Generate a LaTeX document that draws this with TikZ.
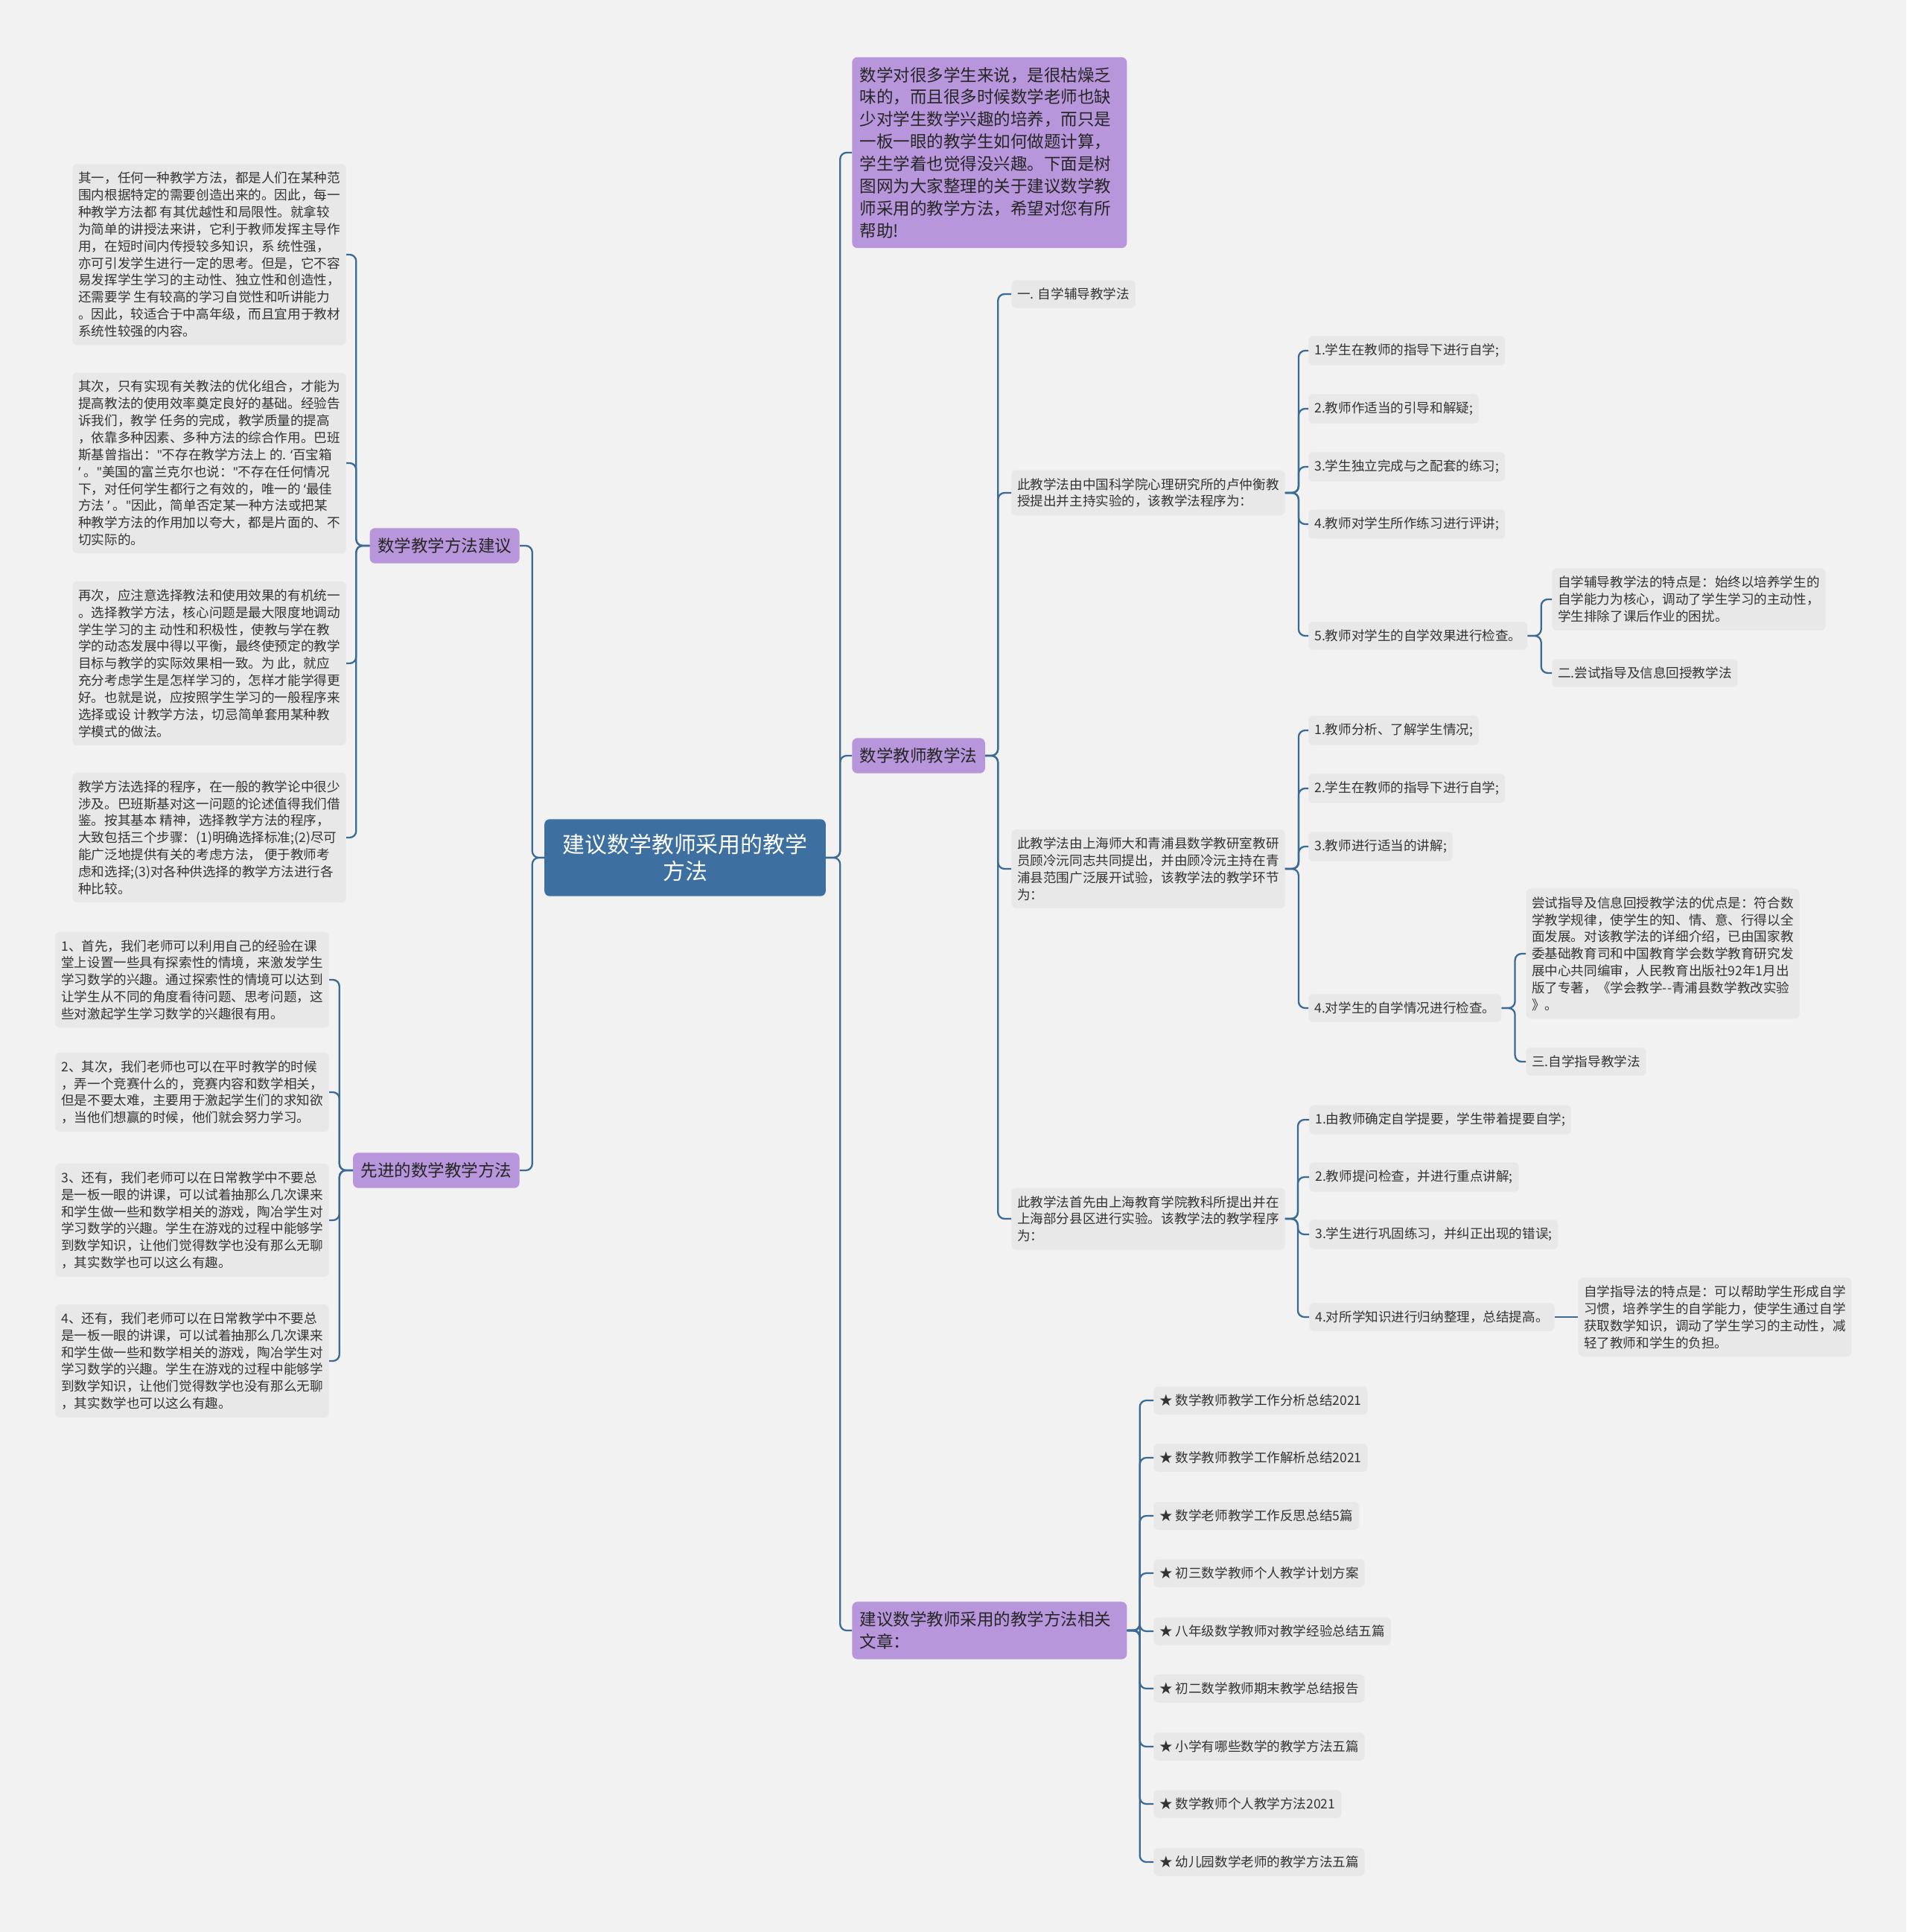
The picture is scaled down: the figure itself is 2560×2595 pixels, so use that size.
\documentclass[tikz,border=0pt]{standalone}
\usepackage{fontspec}
\setmainfont{Noto Sans CJK SC}
\newfontfamily\quotefont{Noto Sans}
\newcommand\qopen{{\quotefont ‘}}
\newcommand\qclose{{\quotefont ’}}
\newcommand\qdbl{{\quotefont "}}
\usepackage{tikz}
\usetikzlibrary{calc}
\definecolor{bgcol}{HTML}{F2F2F2}
\definecolor{leafcol}{HTML}{E8E8E8}
\definecolor{purp}{HTML}{B796DB}
\definecolor{rootcol}{HTML}{3D70A0}
\definecolor{linkcol}{HTML}{3B6A94}
\definecolor{txtcol}{HTML}{333333}

\begin{document}
\begin{tikzpicture}[x=0.02cm, y=-0.02cm,
	leaf/.style={fill=leafcol, text=txtcol, rounded corners=3.5pt, inner xsep=4.5pt, inner ysep=6pt, align=left, font=\fontsize{10}{13}\selectfont},
	branch/.style={fill=purp, text=black!85, rounded corners=4pt, inner xsep=6pt, inner ysep=7.5pt, align=left, font=\fontsize{12.8}{17}\selectfont},
	rootbox/.style={fill=rootcol, text=white, rounded corners=4pt, inner xsep=14pt, inner ysep=11pt, align=center, font=\fontsize{17}{21}\selectfont},
	link/.style={draw=linkcol, line width=1.3pt, rounded corners=5pt}]
	\fill[bgcol] (0,0) rectangle (2560,2595);
	\useasboundingbox (0,0) rectangle (2560,2595);

	% centre
	\node[rootbox] (root) at (920,1152) {建议数学教师采用的教学\\方法};

	% left side
	\node[branch, anchor=east] (advice) at (698,733) {数学教学方法建议};
	\node[branch, anchor=east] (modern) at (698,1572) {先进的数学教学方法};

	\node[leaf, anchor=east] (adv1) at (465,342) {其一，任何一种教学方法，都是人们在某种范\\围内根据特定的需要创造出来的。因此，每一\\种教学方法都 有其优越性和局限性。就拿较\\为简单的讲授法来讲，它利于教师发挥主导作\\用，在短时间内传授较多知识，系 统性强，\\亦可引发学生进行一定的思考。但是，它不容\\易发挥学生学习的主动性、独立性和创造性，\\还需要学 生有较高的学习自觉性和听讲能力\\。因此，较适合于中高年级，而且宜用于教材\\系统性较强的内容。};
	\node[leaf, anchor=east] (adv2) at (465,622) {其次，只有实现有关教法的优化组合，才能为\\提高教法的使用效率奠定良好的基础。经验告\\诉我们，教学 任务的完成，教学质量的提高\\，依靠多种因素、多种方法的综合作用。巴班\\斯基曾指出：\qdbl 不存在教学方法上 的. \qopen 百宝箱\\\qclose\ 。\qdbl 美国的富兰克尔也说：\qdbl 不存在任何情况\\下，对任何学生都行之有效的，唯一的 \qopen 最佳\\方法 \qclose\ 。\qdbl 因此，简单否定某一种方法或把某\\种教学方法的作用加以夸大，都是片面的、不\\切实际的。};
	\node[leaf, anchor=east] (adv3) at (465,891) {再次，应注意选择教法和使用效果的有机统一\\。选择教学方法，核心问题是最大限度地调动\\学生学习的主 动性和积极性，使教与学在教\\学的动态发展中得以平衡，最终使预定的教学\\目标与教学的实际效果相一致。为 此，就应\\充分考虑学生是怎样学习的，怎样才能学得更\\好。也就是说，应按照学生学习的一般程序来\\选择或设 计教学方法，切忌简单套用某种教\\学模式的做法。};
	\node[leaf, anchor=east] (adv4) at (465,1125) {教学方法选择的程序，在一般的教学论中很少\\涉及。巴班斯基对这一问题的论述值得我们借\\鉴。按其基本 精神，选择教学方法的程序，\\大致包括三个步骤：(1)明确选择标准;(2)尽可\\能广泛地提供有关的考虑方法， 便于教师考\\虑和选择;(3)对各种供选择的教学方法进行各\\种比较。};

	\node[leaf, anchor=east] (mod1) at (442,1316) {1、首先，我们老师可以利用自己的经验在课\\堂上设置一些具有探索性的情境，来激发学生\\学习数学的兴趣。通过探索性的情境可以达到\\让学生从不同的角度看待问题、思考问题，这\\些对激起学生学习数学的兴趣很有用。};
	\node[leaf, anchor=east] (mod2) at (442,1467) {2、其次，我们老师也可以在平时教学的时候\\，弄一个竞赛什么的，竞赛内容和数学相关，\\但是不要太难，主要用于激起学生们的求知欲\\，当他们想赢的时候，他们就会努力学习。};
	\node[leaf, anchor=east] (mod3) at (442,1639) {3、还有，我们老师可以在日常教学中不要总\\是一板一眼的讲课，可以试着抽那么几次课来\\和学生做一些和数学相关的游戏，陶冶学生对\\学习数学的兴趣。学生在游戏的过程中能够学\\到数学知识，让他们觉得数学也没有那么无聊\\，其实数学也可以这么有趣。};
	\node[leaf, anchor=east] (mod4) at (442,1828) {4、还有，我们老师可以在日常教学中不要总\\是一板一眼的讲课，可以试着抽那么几次课来\\和学生做一些和数学相关的游戏，陶冶学生对\\学习数学的兴趣。学生在游戏的过程中能够学\\到数学知识，让他们觉得数学也没有那么无聊\\，其实数学也可以这么有趣。};

	% right side
	\node[branch, anchor=west, text width=198pt] (intro) at (1144,205) {数学对很多学生来说，是很枯燥乏\\味的，而且很多时候数学老师也缺\\少对学生数学兴趣的培养，而只是\\一板一眼的教学生如何做题计算，\\学生学着也觉得没兴趣。下面是树\\图网为大家整理的关于建议数学教\\师采用的教学方法，希望对您有所\\帮助!};
	\node[branch, anchor=west] (method) at (1144,1015) {数学教师教学法};
	\node[branch, anchor=west, text width=198pt] (related) at (1144,2190) {建议数学教师采用的教学方法相关\\文章：};

	\node[leaf, anchor=west] (m0) at (1358,395) {一. 自学辅导教学法};
	\node[leaf, anchor=west] (ma) at (1358,662) {此教学法由中国科学院心理研究所的卢仲衡教\\授提出并主持实验的，该教学法程序为：};
	\node[leaf, anchor=west] (ma1) at (1757,471) {1.学生在教师的指导下进行自学;};
	\node[leaf, anchor=west] (ma2) at (1757,549) {2.教师作适当的引导和解疑;};
	\node[leaf, anchor=west] (ma3) at (1757,627) {3.学生独立完成与之配套的练习;};
	\node[leaf, anchor=west] (ma4) at (1757,704) {4.教师对学生所作练习进行评讲;};
	\node[leaf, anchor=west] (ma5) at (1757,854) {5.教师对学生的自学效果进行检查。};
	\node[leaf, anchor=west] (ma5a) at (2084,805) {自学辅导教学法的特点是：始终以培养学生的\\自学能力为核心，调动了学生学习的主动性，\\学生排除了课后作业的困扰。};
	\node[leaf, anchor=west] (ma5b) at (2084,904) {二.尝试指导及信息回授教学法};

	\node[leaf, anchor=west] (mb) at (1358,1167) {此教学法由上海师大和青浦县数学教研室教研\\员顾冷沅同志共同提出，并由顾冷沅主持在青\\浦县范围广泛展开试验，该教学法的教学环节\\为：};
	\node[leaf, anchor=west] (mb1) at (1757,981) {1.教师分析、了解学生情况;};
	\node[leaf, anchor=west] (mb2) at (1757,1059) {2.学生在教师的指导下进行自学;};
	\node[leaf, anchor=west] (mb3) at (1757,1137) {3.教师进行适当的讲解;};
	\node[leaf, anchor=west] (mb4) at (1757,1354) {4.对学生的自学情况进行检查。};
	\node[leaf, anchor=west] (mb4a) at (2049,1281) {尝试指导及信息回授教学法的优点是：符合数\\学教学规律，使学生的知、情、意、行得以全\\面发展。对该教学法的详细介绍，已由国家教\\委基础教育司和中国教育学会数学教育研究发\\展中心共同编审，人民教育出版社92年1月出\\版了专著，《学会教学-{}-青浦县数学教改实验\\》。};
	\node[leaf, anchor=west] (mb4b) at (2049,1426) {三.自学指导教学法};

	\node[leaf, anchor=west] (mc) at (1358,1637) {此教学法首先由上海教育学院教科所提出并在\\上海部分县区进行实验。该教学法的教学程序\\为：};
	\node[leaf, anchor=west] (mc1) at (1758,1504) {1.由教师确定自学提要，学生带着提要自学;};
	\node[leaf, anchor=west] (mc2) at (1758,1581) {2.教师提问检查，并进行重点讲解;};
	\node[leaf, anchor=west] (mc3) at (1758,1658) {3.学生进行巩固练习，并纠正出现的错误;};
	\node[leaf, anchor=west] (mc4) at (1758,1769) {4.对所学知识进行归纳整理，总结提高。};
	\node[leaf, anchor=west] (mc4a) at (2119,1769) {自学指导法的特点是：可以帮助学生形成自学\\习惯，培养学生的自学能力，使学生通过自学\\获取数学知识，调动了学生学习的主动性，减\\轻了教师和学生的负担。};

	\node[leaf, anchor=west] (rel1) at (1549,1881) {★ 数学教师教学工作分析总结2021};
	\node[leaf, anchor=west] (rel2) at (1549,1958) {★ 数学教师教学工作解析总结2021};
	\node[leaf, anchor=west] (rel3) at (1549,2036) {★ 数学老师教学工作反思总结5篇};
	\node[leaf, anchor=west] (rel4) at (1549,2113) {★ 初三数学教师个人教学计划方案};
	\node[leaf, anchor=west] (rel5) at (1549,2191) {★ 八年级数学教师对教学经验总结五篇};
	\node[leaf, anchor=west] (rel6) at (1549,2268) {★ 初二数学教师期末教学总结报告};
	\node[leaf, anchor=west] (rel7) at (1549,2346) {★ 小学有哪些数学的教学方法五篇};
	\node[leaf, anchor=west] (rel8) at (1549,2423) {★ 数学教师个人教学方法2021};
	\node[leaf, anchor=west] (rel9) at (1549,2501) {★ 幼儿园数学老师的教学方法五篇};

	% connectors
	\draw[link] (root.west) -- ++(-16,0) |- (advice.east);
	\draw[link] (root.west) -- ++(-16,0) |- (modern.east);
	\draw[link] (advice.west) -- ++(-18,0) |- (adv1.east);
	\draw[link] (advice.west) -- ++(-18,0) |- (adv2.east);
	\draw[link] (advice.west) -- ++(-18,0) |- (adv3.east);
	\draw[link] (advice.west) -- ++(-18,0) |- (adv4.east);
	\draw[link] (modern.west) -- ++(-18,0) |- (mod1.east);
	\draw[link] (modern.west) -- ++(-18,0) |- (mod2.east);
	\draw[link] (modern.west) -- ++(-18,0) |- (mod3.east);
	\draw[link] (modern.west) -- ++(-18,0) |- (mod4.east);

	\draw[link] (root.east) -- ++(19,0) |- (intro.west);
	\draw[link] (root.east) -- ++(19,0) |- (method.west);
	\draw[link] (root.east) -- ++(19,0) |- (related.west);
	\draw[link] (method.east) -- ++(17,0) |- (m0.west);
	\draw[link] (method.east) -- ++(17,0) |- (ma.west);
	\draw[link] (method.east) -- ++(17,0) |- (mb.west);
	\draw[link] (method.east) -- ++(17,0) |- (mc.west);
	\draw[link] (ma.east) -- ++(18,0) |- (ma1.west);
	\draw[link] (ma.east) -- ++(18,0) |- (ma2.west);
	\draw[link] (ma.east) -- ++(18,0) |- (ma3.west);
	\draw[link] (ma.east) -- ++(18,0) |- (ma4.west);
	\draw[link] (ma.east) -- ++(18,0) |- (ma5.west);
	\draw[link] (ma5.east) -- ++(18,0) |- (ma5a.west);
	\draw[link] (ma5.east) -- ++(18,0) |- (ma5b.west);
	\draw[link] (mb.east) -- ++(18,0) |- (mb1.west);
	\draw[link] (mb.east) -- ++(18,0) |- (mb2.west);
	\draw[link] (mb.east) -- ++(18,0) |- (mb3.west);
	\draw[link] (mb.east) -- ++(18,0) |- (mb4.west);
	\draw[link] (mb4.east) -- ++(18,0) |- (mb4a.west);
	\draw[link] (mb4.east) -- ++(18,0) |- (mb4b.west);
	\draw[link] (mc.east) -- ++(17,0) |- (mc1.west);
	\draw[link] (mc.east) -- ++(17,0) |- (mc2.west);
	\draw[link] (mc.east) -- ++(17,0) |- (mc3.west);
	\draw[link] (mc.east) -- ++(17,0) |- (mc4.west);
	\draw[link] (mc4.east) -- (mc4a.west);
	\draw[link] (related.east) -- ++(17,0) |- (rel1.west);
	\draw[link] (related.east) -- ++(17,0) |- (rel2.west);
	\draw[link] (related.east) -- ++(17,0) |- (rel3.west);
	\draw[link] (related.east) -- ++(17,0) |- (rel4.west);
	\draw[link] (related.east) -- ++(17,0) |- (rel5.west);
	\draw[link] (related.east) -- ++(17,0) |- (rel6.west);
	\draw[link] (related.east) -- ++(17,0) |- (rel7.west);
	\draw[link] (related.east) -- ++(17,0) |- (rel8.west);
	\draw[link] (related.east) -- ++(17,0) |- (rel9.west);
\end{tikzpicture}
\end{document}
